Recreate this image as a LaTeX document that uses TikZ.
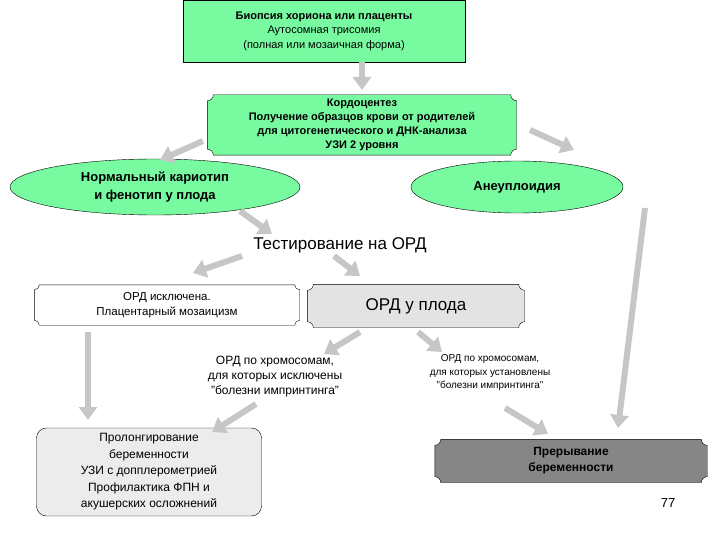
\documentclass[tikz,border=0pt]{standalone}
\usepackage{fontspec}
\setmainfont{Liberation Sans}
\usetikzlibrary{arrows.meta,calc,backgrounds,shapes.geometric}

\tikzset{
  txt/.style={align=center,inner sep=0pt,font=\fontsize{11.5}{15}\selectfont},
  garrow/.style={draw=gray!45,line width=6pt,-{Triangle[length=13pt,width=18pt]}},
  oval/.style={ellipse,draw,align=center,inner sep=0pt,
    font=\bfseries\fontsize{13}{18}\selectfont}
}
\definecolor{lgreen}{RGB}{120,250,160}
\newcommand{\plaque}[3]{%
  \path[#3] ($(#1.north west)+(#2,0)$) -- ($(#1.north east)+(-#2,0)$) arc(180:270:#2)
    -- ($(#1.south east)+(0,#2)$) arc(90:180:#2)
    -- ($(#1.south west)+(#2,0)$) arc(0:90:#2)
    -- ($(#1.north west)+(0,-#2)$) arc(270:360:#2) -- cycle;}

\begin{document}
\begin{tikzpicture}[x=1pt,y=-1pt]
  \useasboundingbox (0,0) rectangle (720,540);
  % boxes
  \node[txt,minimum width=282,minimum height=62,font=\fontsize{11}{14.5}\selectfont] (biop) at (324,31)
    {\textbf{Биопсия хориона или плаценты}\\Аутосомная трисомия\\(полная или мозаичная форма)};
  \node[txt,minimum width=309,minimum height=60,font=\bfseries\fontsize{11}{14}\selectfont] (kord) at (362,125)
    {Кордоцентез\\Получение образцов крови от родителей\\для цитогенетического и ДНК-анализа\\УЗИ 2 уровня};
  \node[oval,fill=lgreen,minimum width=290,minimum height=56] (norm) at (155,187)
    {Нормальный кариотип\\и фенотип у плода};
  \node[oval,fill=lgreen,minimum width=212,minimum height=52] (aneu) at (517,187) {Анеуплоидия};
  \node[txt,font=\fontsize{17}{20}\selectfont] (test) at (340,245) {Тестирование на ОРД};
  \node[txt,minimum width=265,minimum height=40] (excl) at (167,305)
    {ОРД исключена.\\Плацентарный мозаицизм};
  \node[txt,minimum width=217,minimum height=43,font=\fontsize{17}{20}\selectfont] (ordp) at (416,306)
    {ОРД у плода};
  \node[txt,font=\fontsize{12}{15}\selectfont] (lexc) at (275,377)
    {ОРД по хромосомам,\\для которых исключены\\"болезни импринтинга"};
  \node[txt,font=\fontsize{10}{13.5}\selectfont] (lset) at (490,373)
    {ОРД по хромосомам,\\для которых установлены\\"болезни импринтинга"};
  \node[txt,minimum width=225,minimum height=88,draw,rounded corners=10pt,fill=gray!15,
    font=\fontsize{12}{16.5}\selectfont] (prol) at (149,472)
    {Пролонгирование\\беременности\\УЗИ с допплерометрией\\Профилактика ФПН и\\акушерских осложнений};
  \node[txt,minimum width=272,minimum height=43,font=\bfseries\fontsize{12}{16}\selectfont] (prer) at (571,461)
    {Прерывание\\беременности};
  \node[txt,font=\fontsize{13}{15}\selectfont] (page) at (668,503) {77};
  \begin{scope}[on background layer]
    \plaque{biop}{0pt}{draw,fill=lgreen}
    \plaque{kord}{6pt}{draw,fill=lgreen}
    \plaque{excl}{5pt}{draw,fill=white}
    \plaque{ordp}{6pt}{draw,fill=gray!22}
    \plaque{prer}{6pt}{draw,fill=gray!95}
  \end{scope}
  % arrows
  \coordinate (a1) at (362,62);  \coordinate (b1) at (362,90);
  \coordinate (a2) at (203,141); \coordinate (b2) at (160,160);
  \coordinate (a3) at (530,130); \coordinate (b3) at (574,150);
  \coordinate (a4) at (240,211); \coordinate (b4) at (272,234);
  \coordinate (a5) at (242,256); \coordinate (b5) at (193,273);
  \coordinate (a6) at (334,256); \coordinate (b6) at (360,276);
  \coordinate (a7) at (88,332);  \coordinate (b7) at (88,420);
  \coordinate (a8) at (360,332); \coordinate (b8) at (324,354);
  \coordinate (a9) at (418,332); \coordinate (b9) at (442,352);
  \coordinate (a10) at (256,404); \coordinate (b10) at (212,432);
  \coordinate (a11) at (505,408); \coordinate (b11) at (548,434);
  \coordinate (a12) at (645,208); \coordinate (b12) at (618,428);
  \foreach \i in {1,...,12}
    \draw[garrow] (a\i) -- (b\i);
\end{tikzpicture}
\end{document}
